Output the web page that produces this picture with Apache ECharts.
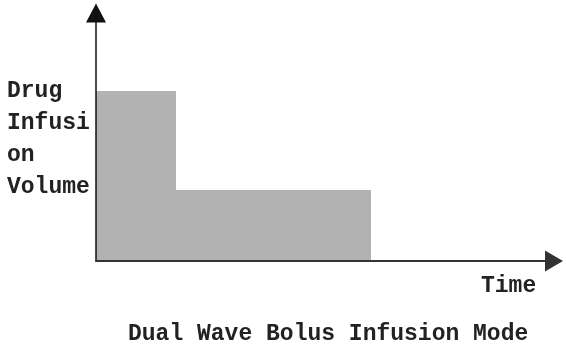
<!DOCTYPE html>
<html>
<head>
<meta charset="utf-8">
<script src="https://cdn.jsdelivr.net/npm/echarts@6/dist/echarts.min.js"></script>
<style>
  html, body { margin: 0; padding: 0; background: #fff; }
  #main { width: 566px; height: 352px; }
</style>
</head>
<body>
<div id="main"></div>
<script>
// phases of the dual wave bolus (time in arbitrary units, volume in arbitrary units)
var phases = ["Bolus", "Extended"];
var phaseStart = [0, 1.75];
var phaseEnd = [1.75, 6.0];
var volume = [6.85, 2.85];

var chartTitle = "Dual Wave Bolus Infusion Mode";
var yName = "Drug\nInfusi\non\nVolume";
var xName = "Time";

var chartDom = document.getElementById("main");
var myChart = echarts.init(chartDom);
var option;

var data = [];
for (var i = 0; i < phases.length; i++) {
    data.push([phaseStart[i], phaseEnd[i], volume[i], phases[i]]);
}

var monoText = {
    fontFamily: "'Liberation Mono', 'Courier New', monospace",
    fontWeight: "bold",
    fontSize: 23,
    color: "#222",
};

option = {
    animation: false,
    backgroundColor: "#fff",
    title: [
        {
            text: chartTitle,
            left: 128,
            top: 319,
            padding: 0,
            textStyle: Object.assign({}, monoText, { lineHeight: 30 }),
        },
        {
            text: yName,
            left: 7,
            top: 75,
            padding: 0,
            textStyle: Object.assign({}, monoText, { lineHeight: 32 }),
        },
        {
            text: xName,
            left: 481,
            top: 271,
            padding: 0,
            textStyle: Object.assign({}, monoText, { lineHeight: 30 }),
        },
    ],
    grid: {
        left: 96,
        right: 12,
        top: 13,
        bottom: 91,
    },
    xAxis: {
        type: "value",
        min: 0,
        max: 10,
        z: 10,
        axisLine: {
            show: true,
            symbol: ["none", "triangle"],
            symbolSize: [21, 18],
            lineStyle: { color: "#333", width: 2 },
        },
        axisTick: { show: false },
        axisLabel: { show: false },
        splitLine: { show: false },
    },
    yAxis: {
        type: "value",
        min: 0,
        max: 10,
        z: 10,
        axisLine: {
            show: true,
            symbol: ["none", "triangle"],
            symbolSize: [20, 19],
            lineStyle: { color: "#111", width: 1.5 },
        },
        axisTick: { show: false },
        axisLabel: { show: false },
        splitLine: { show: false },
    },
    series: [
        {
            type: "custom",
            renderItem: function (params, api) {
                var p0 = api.coord([api.value(0), 0]);
                var p1 = api.coord([api.value(1), api.value(2)]);
                // round to whole pixels so neighbouring blocks don't show a seam
                var x0 = Math.round(p0[0]);
                var x1 = Math.round(p1[0]);
                var y0 = Math.round(p0[1]);
                var y1 = Math.round(p1[1]);
                return {
                    type: "rect",
                    shape: {
                        x: x0,
                        y: y1,
                        width: x1 - x0,
                        height: y0 - y1,
                    },
                    style: { fill: "#b2b2b2" },
                };
            },
            encode: { x: [0, 1], y: 2 },
            data: data,
        },
    ],
};

option && myChart.setOption(option);
</script>
</body>
</html>
